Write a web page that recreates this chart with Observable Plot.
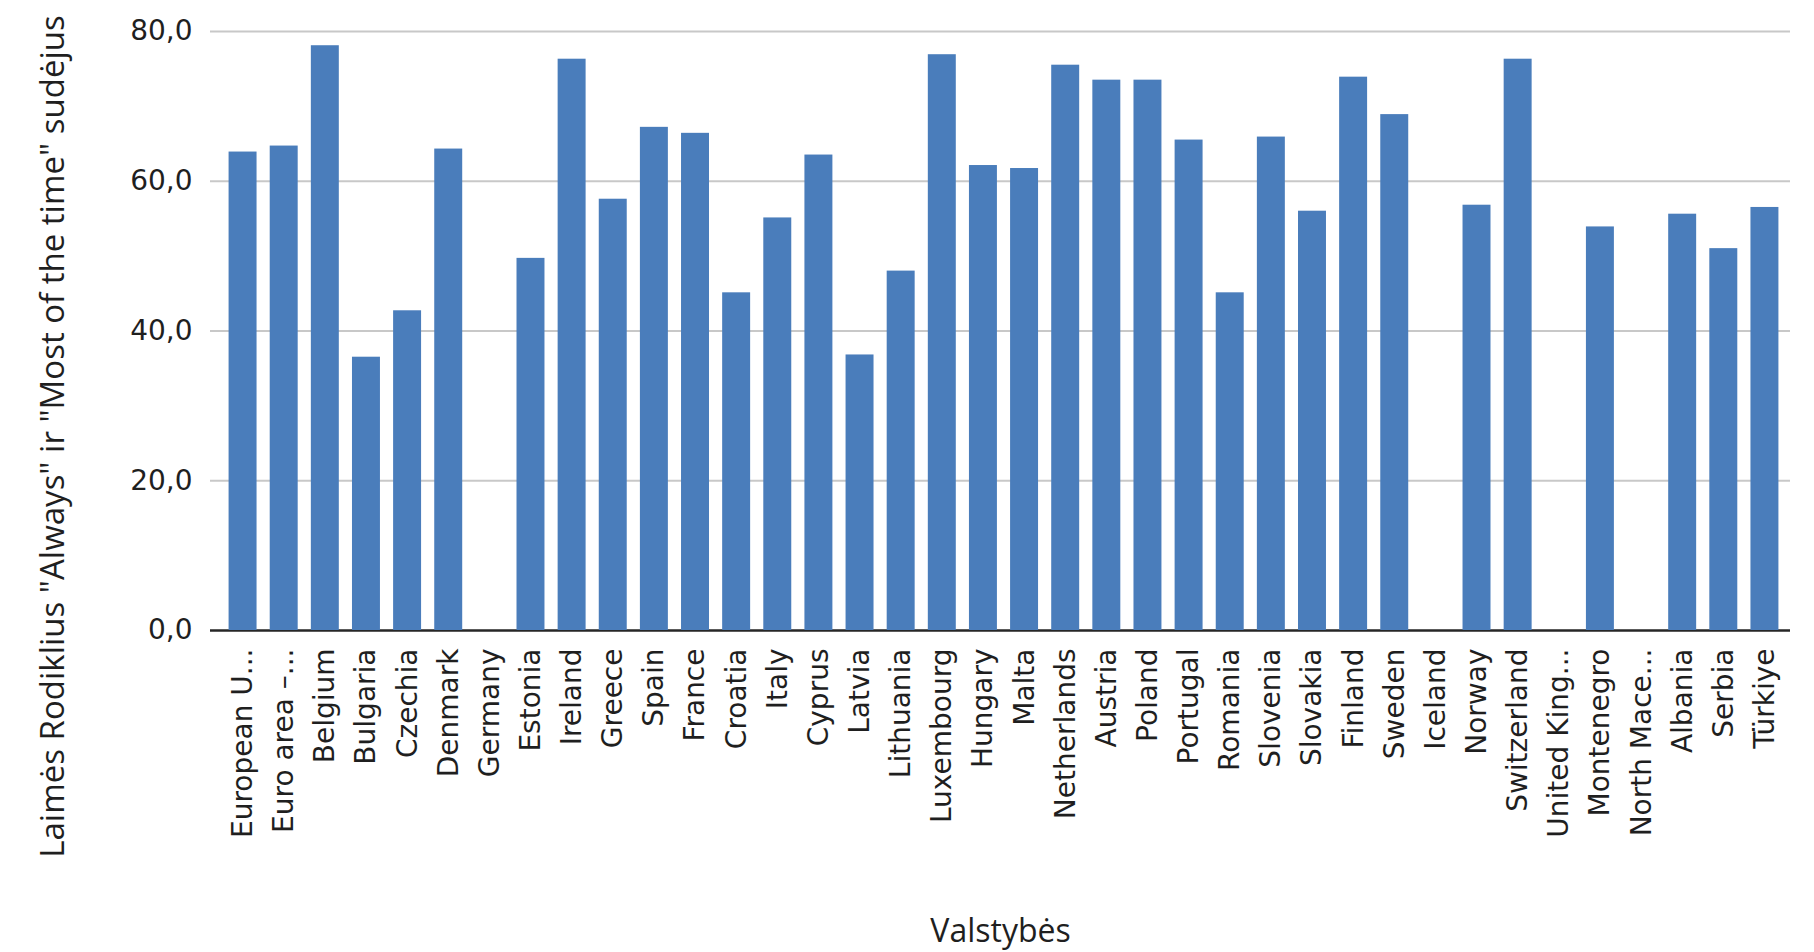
<!DOCTYPE html>
<html>
<head>
<meta charset="utf-8">
<script src="https://cdn.jsdelivr.net/npm/d3@7"></script>
<script src="https://cdn.jsdelivr.net/npm/@observablehq/plot@0.6"></script>
<style>
  html, body { margin: 0; padding: 0; background: #ffffff; }
  #chart svg { display: block; }
</style>
</head>
<body>
<div id="chart"></div>
<script>
const categories = [
  "European U...", "Euro area –...", "Belgium", "Bulgaria", "Czechia", "Denmark", "Germany",
  "Estonia", "Ireland", "Greece", "Spain", "France", "Croatia", "Italy", "Cyprus", "Latvia",
  "Lithuania", "Luxembourg", "Hungary", "Malta", "Netherlands", "Austria", "Poland", "Portugal",
  "Romania", "Slovenia", "Slovakia", "Finland", "Sweden", "Iceland", "Norway", "Switzerland",
  "United King...", "Montenegro", "North Mace...", "Albania", "Serbia", "Türkiye"
];
const values = [
  63.9, 64.7, 78.1, 36.5, 42.7, 64.3, null,
  49.7, 76.3, 57.6, 67.2, 66.4, 45.1, 55.1, 63.5, 36.8,
  48.0, 76.9, 62.1, 61.7, 75.5, 73.5, 73.5, 65.5,
  45.1, 65.9, 56.0, 73.9, 68.9, null, 56.8, 76.3,
  null, 53.9, null, 55.6, 51.0, 56.5
];
const yTicks = [0, 20, 40, 60, 80];
const xTitle = "Valstybės";
const yTitle = 'Laimės Rodiklius "Always" ir "Most of the time" sudėjus';

const data = categories.map((c, i) => ({country: c, value: values[i]}));

const chart = Plot.plot({
  width: 1814,
  height: 952,
  marginLeft: 210,
  marginRight: 24,
  marginTop: 31,
  marginBottom: 322,
  style: {fontFamily: "'DejaVu Sans', Verdana, sans-serif", fontSize: "28px", color: "#1f1f1f", background: "#ffffff"},
  x: {
    domain: categories,
    paddingInner: 0.32,
    paddingOuter: 0.16,
    round: false,
    insetLeft: 12,
    insetRight: 5,
    tickRotate: -90,
    tickSize: 0,
    tickPadding: 18,
    label: null
  },
  y: {
    domain: [0, 80],
    ticks: yTicks,
    tickFormat: d => d.toFixed(1).replace(".", ","),
    tickSize: 0,
    tickPadding: 18,
    label: null
  },
  marks: [
    Plot.ruleY(yTicks.filter(t => t > 0), {stroke: "#c8c8c8", strokeWidth: 2}),
    Plot.ruleY([0], {stroke: "#262626", strokeWidth: 2.5}),
    Plot.barY(data, {x: "country", y: "value", fill: "#4a7dbb"}),
    Plot.text([yTitle], {
      text: d => d, frameAnchor: "left", rotate: -90, textAnchor: "middle", lineAnchor: "bottom",
      dx: -147, dy: 105.5, fontFamily: "'Open Sans', sans-serif", fontSize: 33, fill: "#1f1f1f"
    }),
    Plot.text([xTitle], {
      text: d => d, frameAnchor: "bottom", textAnchor: "middle", lineAnchor: "bottom",
      dy: 311, fontFamily: "'Open Sans', sans-serif", fontSize: 32, fill: "#1f1f1f"
    })
  ]
});
document.getElementById("chart").appendChild(chart);
</script>
</body>
</html>
